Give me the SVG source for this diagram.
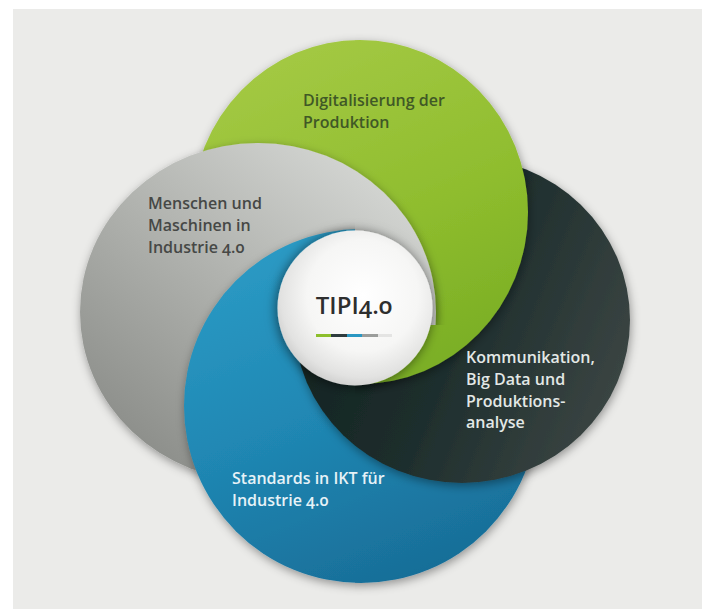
<svg xmlns="http://www.w3.org/2000/svg" xmlns:xlink="http://www.w3.org/1999/xlink" width="702" height="609" viewBox="0 0 702 609">
  <style>
    .label { font-family: "Open Sans", "Noto Sans", "Liberation Sans", sans-serif; font-size: 16px; font-weight: 600; font-variant-numeric: oldstyle-nums; }
    .lbl-green { fill: #405826; }
    .lbl-gray { fill: #464846; }
    .lbl-dark { fill: #e3e8e6; }
    .lbl-blue { fill: #e6f2f7; }
    .title { font-family: "Open Sans", "Noto Sans", "Liberation Sans", sans-serif; font-size: 24px; font-weight: 600; fill: #2e2e2e; font-variant-numeric: oldstyle-nums; }
  </style>
  <defs>
    <!-- petal outlines -->
    <ellipse id="shape-green" cx="360" cy="212" rx="168" ry="172"/>
    <ellipse id="shape-gray" cx="258" cy="312" rx="178" ry="169"/>
    <ellipse id="shape-dark" cx="462" cy="320" rx="168" ry="163"/>
    <circle id="shape-blue" cx="361" cy="406" r="177"/>

    <linearGradient id="g-green" x1="0.3" y1="0" x2="0.75" y2="1">
      <stop offset="0" stop-color="#a4c944"/>
      <stop offset="0.55" stop-color="#8fbd2e"/>
      <stop offset="1" stop-color="#78ad24"/>
    </linearGradient>
    <linearGradient id="g-gray" x1="0.85" y1="0.05" x2="0.15" y2="0.9">
      <stop offset="0" stop-color="#d6d8d5"/>
      <stop offset="0.45" stop-color="#b4b6b2"/>
      <stop offset="1" stop-color="#8c8e8a"/>
    </linearGradient>
    <linearGradient id="g-dark" x1="0" y1="0.3" x2="1" y2="0.7">
      <stop offset="0" stop-color="#10221f"/>
      <stop offset="0.5" stop-color="#1e2e2d"/>
      <stop offset="1" stop-color="#3c4644"/>
    </linearGradient>
    <linearGradient id="g-blue" x1="0.2" y1="0" x2="0.6" y2="1">
      <stop offset="0" stop-color="#2c9cc6"/>
      <stop offset="0.5" stop-color="#2088b4"/>
      <stop offset="1" stop-color="#186e98"/>
    </linearGradient>
    <radialGradient id="g-hub" cx="0.55" cy="0.42" r="0.6">
      <stop offset="0" stop-color="#ffffff"/>
      <stop offset="0.6" stop-color="#f6f6f5"/>
      <stop offset="0.88" stop-color="#e2e2e1"/>
      <stop offset="1" stop-color="#cfcfce"/>
    </radialGradient>

    <filter id="drop" x="-20%" y="-20%" width="140%" height="140%">
      <feGaussianBlur in="SourceAlpha" stdDeviation="5"/>
      <feOffset dx="1" dy="3" result="blur"/>
      <feFlood flood-color="#000" flood-opacity="0.38"/>
      <feComposite in2="blur" operator="in"/>
      <feMerge><feMergeNode/><feMergeNode in="SourceGraphic"/></feMerge>
    </filter>
    <filter id="halo" x="-30%" y="-30%" width="160%" height="160%">
      <feGaussianBlur in="SourceAlpha" stdDeviation="6"/>
      <feOffset dx="-1" dy="1" result="blur"/>
      <feFlood flood-color="#000" flood-opacity="0.55"/>
      <feComposite in2="blur" operator="in"/>
      <feMerge><feMergeNode/><feMergeNode in="SourceGraphic"/></feMerge>
    </filter>

    <!-- the pinwheel overlaps cyclically, so each half is stacked in its own order -->
    <clipPath id="clip-left"><rect x="0" y="0" width="355" height="609"/></clipPath>
    <clipPath id="clip-right"><rect x="355" y="0" width="347" height="609"/></clipPath>
    <clipPath id="clip-lower"><rect x="0" y="300" width="702" height="309"/></clipPath>
    <clipPath id="clip-upper"><rect x="0" y="0" width="702" height="325"/></clipPath>
  </defs>

  <!-- backdrop -->
  <rect width="702" height="609" fill="#ffffff"/>
  <rect x="13" y="9" width="689" height="600" fill="#ebebe9"/>

  <g id="petals">
    <g id="stack-left" clip-path="url(#clip-left)">
      <use xlink:href="#shape-green" fill="url(#g-green)" filter="url(#drop)"/>
      <use xlink:href="#shape-gray" fill="url(#g-gray)" filter="url(#drop)"/>
      <use xlink:href="#shape-blue" fill="url(#g-blue)" filter="url(#drop)"/>
      <g clip-path="url(#clip-lower)">
        <use xlink:href="#shape-dark" fill="url(#g-dark)" filter="url(#drop)"/>
      </g>
    </g>
    <g id="stack-right" clip-path="url(#clip-right)">
      <use xlink:href="#shape-blue" fill="url(#g-blue)" filter="url(#drop)"/>
      <use xlink:href="#shape-dark" fill="url(#g-dark)" filter="url(#drop)"/>
      <use xlink:href="#shape-green" fill="url(#g-green)" filter="url(#drop)"/>
      <g clip-path="url(#clip-upper)">
        <use xlink:href="#shape-gray" fill="url(#g-gray)" filter="url(#drop)"/>
      </g>
    </g>
  </g>

  <g id="node-digitalisierung">
    <text class="label lbl-green" x="303" y="106">Digitalisierung der</text>
    <text class="label lbl-green" x="303" y="128">Produktion</text>
  </g>
  <g id="node-menschen">
    <text class="label lbl-gray" x="148" y="209">Menschen und</text>
    <text class="label lbl-gray" x="148" y="231">Maschinen in</text>
    <text class="label lbl-gray" x="148" y="253">Industrie 4.0</text>
  </g>
  <g id="node-kommunikation">
    <text class="label lbl-dark" x="466" y="363">Kommunikation,</text>
    <text class="label lbl-dark" x="466" y="385">Big Data und</text>
    <text class="label lbl-dark" x="466" y="407">Produktions-</text>
    <text class="label lbl-dark" x="466" y="428">analyse</text>
  </g>
  <g id="node-standards">
    <text class="label lbl-blue" x="232" y="484">Standards in IKT für</text>
    <text class="label lbl-blue" x="232" y="506">Industrie 4.0</text>
  </g>

  <g id="node-tipi">
    <circle cx="355" cy="308" r="77.5" fill="url(#g-hub)" filter="url(#halo)"/>
    <text class="title" x="354" y="314" text-anchor="middle">TIPI4.0</text>
    <rect x="316" y="334" width="15" height="3" fill="#8dbf2c"/>
    <rect x="331" y="334" width="16" height="3" fill="#2e3b3e"/>
    <rect x="347" y="334" width="15" height="3" fill="#2a97c2"/>
    <rect x="362" y="334" width="16" height="3" fill="#9b9d9b"/>
    <rect x="378" y="334" width="14" height="3" fill="#e4e4e3"/>
  </g>
</svg>
